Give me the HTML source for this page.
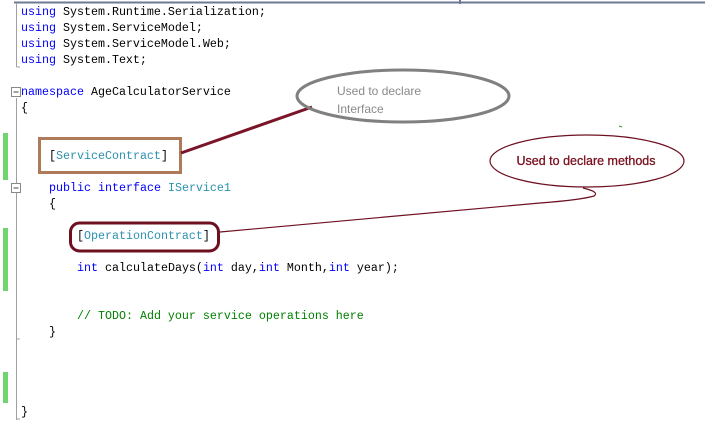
<!DOCTYPE html>
<html><head><meta charset="utf-8"><style>
html,body{margin:0;padding:0;background:#fff;width:705px;height:437px;overflow:hidden;position:relative}
.c{position:absolute;font-family:"Liberation Mono",monospace;font-size:11.67px;line-height:16px;white-space:pre;color:#000}
.k{color:#0000ff}.t{color:#2b91af}.g{color:#008000}
</style></head><body>
<svg width="705" height="437" style="position:absolute;left:0;top:0">
<line x1="14" y1="2.5" x2="705" y2="2.5" stroke="#6d7a96" stroke-width="2"/>
<line x1="460" y1="0" x2="460" y2="4" stroke="#6d7a96" stroke-width="2"/>
<line x1="16.5" y1="3" x2="16.5" y2="67" stroke="#a0a0a0"/>
<line x1="16.5" y1="67" x2="20" y2="67" stroke="#a0a0a0"/>
<line x1="16.5" y1="98" x2="16.5" y2="420" stroke="#a0a0a0"/>
<line x1="16.5" y1="339" x2="20" y2="339" stroke="#a0a0a0"/>
<line x1="16.5" y1="419" x2="20" y2="419" stroke="#a0a0a0"/>
<rect x="3" y="133" width="5" height="47" fill="#6fd66f"/>
<rect x="3" y="228" width="5" height="63" fill="#6fd66f"/>
<rect x="3" y="372" width="5" height="31" fill="#6fd66f"/>
<rect x="11.5" y="87.5" width="9" height="9" fill="#fff" stroke="#888"/>
<line x1="13.5" y1="92" x2="18.5" y2="92" stroke="#444"/>
<rect x="11.5" y="183.5" width="9" height="9" fill="#fff" stroke="#888"/>
<line x1="13.5" y1="188" x2="18.5" y2="188" stroke="#444"/>
<rect x="39.5" y="138.5" width="141" height="34" fill="none" stroke="#ae7a5a" stroke-width="3"/>
<line x1="181" y1="153" x2="312" y2="107" stroke="#7a1428" stroke-width="3"/>
<ellipse cx="403" cy="96" rx="106" ry="26" fill="none" stroke="#808080" stroke-width="3"/>
<ellipse cx="587" cy="161" rx="97" ry="26" fill="none" stroke="#6e1020" stroke-width="1.2"/>
<path d="M583 188 Q600 192 594 196 Q580 200 540 203 L220 232" fill="none" stroke="#6e1020" stroke-width="1.2"/>
<line x1="619" y1="126" x2="622" y2="127" stroke="#3a8a3a" stroke-width="1"/>
<rect x="70.5" y="223" width="148" height="28" rx="9" fill="none" stroke="#6e1020" stroke-width="3"/>
<text x="337" y="95" font-family="Liberation Sans,sans-serif" font-size="12" fill="#8a8a8a">Used to declare</text>
<text x="337" y="113" font-family="Liberation Sans,sans-serif" font-size="12" fill="#8a8a8a">Interface</text>
<text x="586" y="165" text-anchor="middle" font-family="Liberation Sans,sans-serif" font-size="12.5" fill="#7a1020" stroke="#7a1020" stroke-width="0.3">Used to declare methods</text>
</svg>
<div class="c" style="left:21px;top:4px"><span class="k">using</span> System.Runtime.Serialization;
<span class="k">using</span> System.ServiceModel;
<span class="k">using</span> System.ServiceModel.Web;
<span class="k">using</span> System.Text;</div>
<div class="c" style="left:21px;top:84px"><span class="k">namespace</span> AgeCalculatorService
{</div>
<div class="c" style="left:49px;top:148px">[<span class="t">ServiceContract</span>]</div>
<div class="c" style="left:49px;top:180px"><span class="k">public</span> <span class="k">interface</span> <span class="t">IService1</span>
{</div>
<div class="c" style="left:77px;top:228px">[<span class="t">OperationContract</span>]</div>
<div class="c" style="left:77px;top:260px"><span class="k">int</span> calculateDays(<span class="k">int</span> day,<span class="k">int</span> Month,<span class="k">int</span> year);</div>
<div class="c" style="left:77px;top:308px"><span class="g">// TODO: Add your service operations here</span></div>
<div class="c" style="left:49px;top:324px">}</div>
<div class="c" style="left:21px;top:404px">}</div>
</body></html>
